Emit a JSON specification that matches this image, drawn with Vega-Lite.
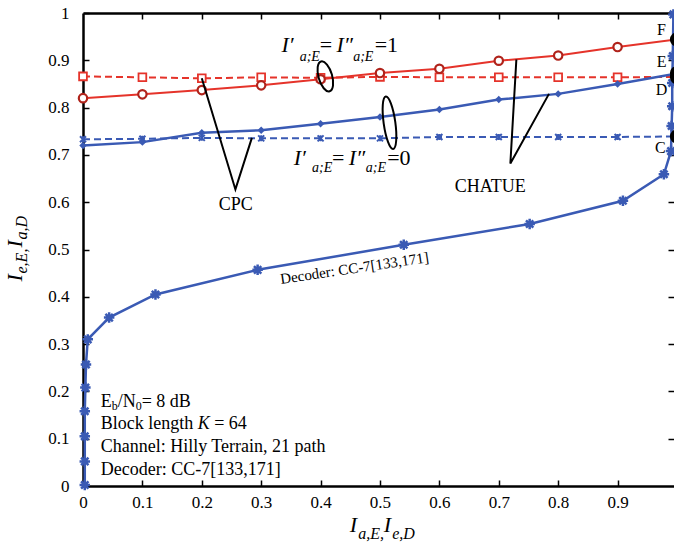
{
"$schema": "https://vega.github.io/schema/vega-lite/v6.json",
"width": 591, "height": 473,
"autosize": "none",
"padding": {"left": 83, "top": 13, "right": 0, "bottom": 68},
"background": "white",
"config": {"view": {"stroke": null}},
"datasets": {
"curves": [
{"s":"cpc1","i":0,"x":0,"y":0.866,"m":1},{"s":"cpc1","i":1,"x":0.1,"y":0.864,"m":1},{"s":"cpc1","i":2,"x":0.2,"y":0.862,"m":1},{"s":"cpc1","i":3,"x":0.3,"y":0.864,"m":1},{"s":"cpc1","i":4,"x":0.4,"y":0.863,"m":1},{"s":"cpc1","i":5,"x":0.5,"y":0.865,"m":1},{"s":"cpc1","i":6,"x":0.6,"y":0.864,"m":1},{"s":"cpc1","i":7,"x":0.7,"y":0.864,"m":1},{"s":"cpc1","i":8,"x":0.8,"y":0.864,"m":1},{"s":"cpc1","i":9,"x":0.9,"y":0.864,"m":1},{"s":"cpc1","i":10,"x":1.0,"y":0.865,"m":0},
{"s":"cpc0","i":0,"x":0,"y":0.733,"m":1},{"s":"cpc0","i":1,"x":0.1,"y":0.734,"m":1},{"s":"cpc0","i":2,"x":0.2,"y":0.736,"m":1},{"s":"cpc0","i":3,"x":0.3,"y":0.735,"m":1},{"s":"cpc0","i":4,"x":0.4,"y":0.735,"m":1},{"s":"cpc0","i":5,"x":0.5,"y":0.735,"m":1},{"s":"cpc0","i":6,"x":0.6,"y":0.738,"m":1},{"s":"cpc0","i":7,"x":0.7,"y":0.738,"m":1},{"s":"cpc0","i":8,"x":0.8,"y":0.738,"m":1},{"s":"cpc0","i":9,"x":0.9,"y":0.738,"m":1},{"s":"cpc0","i":10,"x":1.0,"y":0.739,"m":0},
{"s":"ch1","i":0,"x":0,"y":0.820,"m":1},{"s":"ch1","i":1,"x":0.1,"y":0.828,"m":1},{"s":"ch1","i":2,"x":0.2,"y":0.837,"m":1},{"s":"ch1","i":3,"x":0.3,"y":0.847,"m":1},{"s":"ch1","i":4,"x":0.4,"y":0.860,"m":1},{"s":"ch1","i":5,"x":0.5,"y":0.873,"m":1},{"s":"ch1","i":6,"x":0.6,"y":0.882,"m":1},{"s":"ch1","i":7,"x":0.7,"y":0.899,"m":1},{"s":"ch1","i":8,"x":0.8,"y":0.910,"m":1},{"s":"ch1","i":9,"x":0.9,"y":0.928,"m":1},{"s":"ch1","i":10,"x":1.0,"y":0.944,"m":0},
{"s":"ch0","i":0,"x":0,"y":0.720,"m":1},{"s":"ch0","i":1,"x":0.1,"y":0.727,"m":1},{"s":"ch0","i":2,"x":0.2,"y":0.747,"m":1},{"s":"ch0","i":3,"x":0.3,"y":0.752,"m":1},{"s":"ch0","i":4,"x":0.4,"y":0.766,"m":1},{"s":"ch0","i":5,"x":0.5,"y":0.780,"m":1},{"s":"ch0","i":6,"x":0.6,"y":0.796,"m":1},{"s":"ch0","i":7,"x":0.7,"y":0.817,"m":1},{"s":"ch0","i":8,"x":0.8,"y":0.829,"m":1},{"s":"ch0","i":9,"x":0.9,"y":0.850,"m":1},{"s":"ch0","i":10,"x":1.0,"y":0.872,"m":0},
{"s":"dec","i":0,"x":0.003,"y":0.002,"m":1},{"s":"dec","i":1,"x":0.003,"y":0.052,"m":1},{"s":"dec","i":2,"x":0.003,"y":0.105,"m":1},{"s":"dec","i":3,"x":0.003,"y":0.158,"m":1},{"s":"dec","i":4,"x":0.004,"y":0.208,"m":1},{"s":"dec","i":5,"x":0.005,"y":0.257,"m":1},{"s":"dec","i":6,"x":0.008,"y":0.310,"m":1},{"s":"dec","i":7,"x":0.044,"y":0.356,"m":1},{"s":"dec","i":8,"x":0.122,"y":0.405,"m":1},{"s":"dec","i":9,"x":0.294,"y":0.457,"m":1},{"s":"dec","i":10,"x":0.540,"y":0.510,"m":1},{"s":"dec","i":11,"x":0.752,"y":0.554,"m":1},{"s":"dec","i":12,"x":0.909,"y":0.603,"m":1},{"s":"dec","i":13,"x":0.978,"y":0.659,"m":1},{"s":"dec","i":14,"x":0.990,"y":0.708,"m":1},{"s":"dec","i":15,"x":0.991,"y":0.761,"m":1},{"s":"dec","i":16,"x":0.992,"y":0.803,"m":1},{"s":"dec","i":17,"x":0.992,"y":0.852,"m":1},{"s":"dec","i":18,"x":0.993,"y":0.909,"m":1},{"s":"dec","i":19,"x":0.994,"y":0.997,"m":1}
],
"dots": [{"p":"F","x":1.0,"y":0.944},{"p":"E","x":1.0,"y":0.873},{"p":"D","x":1.0,"y":0.864},{"p":"C","x":1.0,"y":0.739}],
"callouts": [
{"g":"cpc","o":0,"x":0.2,"y":0.862},{"g":"cpc","o":1,"x":0.2566,"y":0.627},{"g":"cpc","o":2,"x":0.2843,"y":0.736},
{"g":"chatue","o":0,"x":0.7296,"y":0.9017},{"g":"chatue","o":1,"x":0.7195,"y":0.6818},{"g":"chatue","o":2,"x":0.7845,"y":0.829}
],
"ellipses": [{"e":1,"x":0.408,"y":0.866},{"e":2,"x":0.516,"y":0.768}],
"texts": [
{"g":"annI","t":"I′","x":0.334,"y":0.9165},{"g":"annI","t":"I″","x":0.4266,"y":0.9165},{"g":"annI","t":"I′","x":0.3547,"y":0.6797},{"g":"annI","t":"I″","x":0.4473,"y":0.6797},
{"g":"annSub","t":"a;E","x":0.3648,"y":0.8975},{"g":"annSub","t":"a;E","x":0.4549,"y":0.8975},{"g":"annSub","t":"a;E","x":0.3856,"y":0.6628},{"g":"annSub","t":"a;E","x":0.4761,"y":0.6628},
{"g":"annEq","t":"=","x":0.3985,"y":0.9165},{"g":"annEq","t":"=1","x":0.4911,"y":0.9165},{"g":"annEq","t":"=","x":0.4192,"y":0.6797},{"g":"annEq","t":"=0","x":0.5121,"y":0.6797},
{"g":"lbl","t":"CPC","x":0.2571,"y":0.5839},{"g":"lbl","t":"CHATUE","x":0.6855,"y":0.6226},
{"g":"pt","t":"F","x":0.974,"y":0.965},{"g":"pt","t":"E","x":0.974,"y":0.897},{"g":"pt","t":"D","x":0.974,"y":0.838},{"g":"pt","t":"C","x":0.972,"y":0.714},
{"g":"box","t":"E","x":0.0298,"y":0.1674},{"g":"box","t":"/N","x":0.0584,"y":0.1674},{"g":"box","t":"= 8 dB","x":0.0988,"y":0.1674},{"g":"box","t":"Block length","x":0.0298,"y":0.1209},{"g":"box","t":"= 64","x":0.2209,"y":0.1209},{"g":"box","t":"Channel: Hilly Terrain, 21 path","x":0.0298,"y":0.0714},{"g":"box","t":"Decoder: CC-7[133,171]","x":0.0298,"y":0.0243},
{"g":"boxSub","t":"b","x":0.0483,"y":0.16},{"g":"boxSub","t":"0","x":0.0887,"y":0.16},
{"g":"boxK","t":"K","x":0.1931,"y":0.1209},
{"g":"dec","t":"Decoder: CC-7[133,171]","x":0.4583,"y":0.4503},
{"g":"xtI","t":"I","x":0.449,"y":-0.0983},{"g":"xtI","t":"I","x":0.5062,"y":-0.0983},
{"g":"xtSub","t":"a,E,","x":0.4633,"y":-0.111},{"g":"xtSub","t":"e,D","x":0.5205,"y":-0.111},
{"g":"ytI","t":"I","x":-0.1032,"y":0.4323},{"g":"ytI","t":"I","x":-0.1032,"y":0.5042},
{"g":"ytSub","t":"e,E,","x":-0.0939,"y":0.4493},{"g":"ytSub","t":"a,D","x":-0.0939,"y":0.5211}
]
},
"resolve": {"axis": {"x": "independent", "y": "independent"}},
"layer": [
{"data":{"name":"curves"},"transform":[{"filter":"datum.s=='cpc1'"}],
 "mark":{"type":"line","color":"#e5332a","strokeWidth":2,"strokeDash":[7,4]},
 "encoding":{
  "x":{"field":"x","type":"quantitative","scale":{"domain":[0,0.995],"nice":false,"zero":false},
   "axis":{"orient":"bottom","values":[0,0.1,0.2,0.3,0.4,0.5,0.6,0.7,0.8,0.9],"format":".1~f","title":null,"grid":false,"domainColor":"black","domainWidth":2.5,"tickColor":"black","tickWidth":1.5,"tickSize":-6,"labelFont":"Liberation Serif, serif","labelFontSize":17,"labelColor":"black","labelPadding":14,"labelFlush":false,"labelOverlap":false}},
  "y":{"field":"y","type":"quantitative","scale":{"domain":[0,1],"nice":false},
   "axis":{"orient":"left","values":[0,0.1,0.2,0.3,0.4,0.5,0.6,0.7,0.8,0.9,1],"format":".1~f","title":null,"grid":false,"domainColor":"black","domainWidth":2.5,"tickColor":"black","tickWidth":1.5,"tickSize":-6,"labelFont":"Liberation Serif, serif","labelFontSize":17,"labelColor":"black","labelPadding":20,"labelFlush":false,"labelOverlap":false}},
  "order":{"field":"i","type":"quantitative"}}},
{"data":{"name":"curves"},"transform":[{"filter":"datum.s=='cpc0'"}],
 "mark":{"type":"line","color":"#3a5ab4","strokeWidth":2,"strokeDash":[7,4]},
 "encoding":{
  "x":{"field":"x","type":"quantitative","scale":{"domain":[0,0.995],"nice":false,"zero":false},
   "axis":{"orient":"top","values":[0.1,0.2,0.3,0.4,0.5,0.6,0.7,0.8,0.9],"labels":false,"title":null,"grid":false,"domainColor":"black","domainWidth":2.5,"tickColor":"black","tickWidth":1.5,"tickSize":-6}},
  "y":{"field":"y","type":"quantitative","scale":{"domain":[0,1],"nice":false},
   "axis":{"orient":"right","values":[0.1,0.2,0.3,0.4,0.5,0.6,0.7,0.8,0.9],"labels":false,"domain":false,"title":null,"grid":false,"tickColor":"black","tickWidth":1.5,"tickSize":-6}},
  "order":{"field":"i","type":"quantitative"}}},
{"data":{"name":"curves"},"transform":[{"filter":"datum.s=='ch1'"}],
 "mark":{"type":"line","color":"#e5332a","strokeWidth":2},
 "encoding":{"x":{"field":"x","type":"quantitative","scale":{"domain":[0,0.995],"nice":false,"zero":false},"axis":null},"y":{"field":"y","type":"quantitative","scale":{"domain":[0,1],"nice":false},"axis":null},"order":{"field":"i","type":"quantitative"}}},
{"data":{"name":"curves"},"transform":[{"filter":"datum.s=='ch0'"}],
 "mark":{"type":"line","color":"#3a5ab4","strokeWidth":2.5},
 "encoding":{"x":{"field":"x","type":"quantitative","scale":{"domain":[0,0.995],"nice":false,"zero":false},"axis":null},"y":{"field":"y","type":"quantitative","scale":{"domain":[0,1],"nice":false},"axis":null},"order":{"field":"i","type":"quantitative"}}},
{"data":{"name":"curves"},"transform":[{"filter":"datum.s=='dec'"}],
 "mark":{"type":"line","color":"#3a5ab4","strokeWidth":2.5},
 "encoding":{"x":{"field":"x","type":"quantitative","scale":{"domain":[0,0.995],"nice":false,"zero":false},"axis":null},"y":{"field":"y","type":"quantitative","scale":{"domain":[0,1],"nice":false},"axis":null},"order":{"field":"i","type":"quantitative"}}},
{"data":{"name":"curves"},"transform":[{"filter":"datum.s=='cpc1' && datum.m==1"}],
 "mark":{"type":"point","shape":"square","size":60,"filled":true,"fill":"white","stroke":"#e5332a","strokeWidth":1.8,"opacity":1},
 "encoding":{"x":{"field":"x","type":"quantitative","scale":{"domain":[0,0.995],"nice":false,"zero":false},"axis":null},"y":{"field":"y","type":"quantitative","scale":{"domain":[0,1],"nice":false},"axis":null}}},
{"data":{"name":"curves"},"transform":[{"filter":"datum.s=='cpc0' && datum.m==1"}],
 "mark":{"type":"point","shape":"M-1,-1L1,1M-1,1L1,-1M0,-1L0,1","size":36,"filled":false,"stroke":"#3a5ab4","strokeWidth":2,"opacity":1},
 "encoding":{"x":{"field":"x","type":"quantitative","scale":{"domain":[0,0.995],"nice":false,"zero":false},"axis":null},"y":{"field":"y","type":"quantitative","scale":{"domain":[0,1],"nice":false},"axis":null}}},
{"data":{"name":"curves"},"transform":[{"filter":"datum.s=='ch1' && datum.m==1"}],
 "mark":{"type":"point","shape":"circle","size":70,"filled":true,"fill":"white","stroke":"#b0231b","strokeWidth":2.2,"opacity":1},
 "encoding":{"x":{"field":"x","type":"quantitative","scale":{"domain":[0,0.995],"nice":false,"zero":false},"axis":null},"y":{"field":"y","type":"quantitative","scale":{"domain":[0,1],"nice":false},"axis":null}}},
{"data":{"name":"curves"},"transform":[{"filter":"datum.s=='ch0' && datum.m==1"}],
 "mark":{"type":"point","shape":"diamond","size":55,"filled":true,"color":"#3a5ab4","opacity":1},
 "encoding":{"x":{"field":"x","type":"quantitative","scale":{"domain":[0,0.995],"nice":false,"zero":false},"axis":null},"y":{"field":"y","type":"quantitative","scale":{"domain":[0,1],"nice":false},"axis":null}}},
{"data":{"name":"curves"},"transform":[{"filter":"datum.s=='dec' && datum.m==1"}],
 "mark":{"type":"point","shape":"M-1,0L1,0M0,-1L0,1M-0.7,-0.7L0.7,0.7M-0.7,0.7L0.7,-0.7","size":110,"filled":false,"stroke":"#3a5ab4","strokeWidth":2.5,"opacity":1},
 "encoding":{"x":{"field":"x","type":"quantitative","scale":{"domain":[0,0.995],"nice":false,"zero":false},"axis":null},"y":{"field":"y","type":"quantitative","scale":{"domain":[0,1],"nice":false},"axis":null}}},
{"data":{"name":"dots"},
 "mark":{"type":"point","shape":"circle","size":200,"filled":true,"color":"black","opacity":1},
 "encoding":{"x":{"field":"x","type":"quantitative","scale":{"domain":[0,0.995],"nice":false,"zero":false},"axis":null},"y":{"field":"y","type":"quantitative","scale":{"domain":[0,1],"nice":false},"axis":null}}},
{"data":{"name":"callouts"},
 "mark":{"type":"line","color":"black","strokeWidth":2},
 "encoding":{"x":{"field":"x","type":"quantitative","scale":{"domain":[0,0.995],"nice":false,"zero":false},"axis":null},"y":{"field":"y","type":"quantitative","scale":{"domain":[0,1],"nice":false},"axis":null},"detail":{"field":"g"},"order":{"field":"o","type":"quantitative"}}},
{"data":{"name":"ellipses"},"transform":[{"filter":"datum.e==1"}],
 "mark":{"type":"point","shape":"M0,-1A0.44,1 0 1,1 0,1A0.44,1 0 1,1 0,-1Z","size":961,"angle":-16,"filled":false,"stroke":"black","strokeWidth":2,"opacity":1},
 "encoding":{"x":{"field":"x","type":"quantitative","scale":{"domain":[0,0.995],"nice":false,"zero":false},"axis":null},"y":{"field":"y","type":"quantitative","scale":{"domain":[0,1],"nice":false},"axis":null}}},
{"data":{"name":"ellipses"},"transform":[{"filter":"datum.e==2"}],
 "mark":{"type":"point","shape":"M0,-1A0.22,1 0 1,1 0,1A0.22,1 0 1,1 0,-1Z","size":2809,"angle":-8,"filled":false,"stroke":"black","strokeWidth":2,"opacity":1},
 "encoding":{"x":{"field":"x","type":"quantitative","scale":{"domain":[0,0.995],"nice":false,"zero":false},"axis":null},"y":{"field":"y","type":"quantitative","scale":{"domain":[0,1],"nice":false},"axis":null}}},
{"data":{"name":"texts"},"transform":[{"filter":"datum.g=='annI'"}],
 "mark":{"type":"text","font":"Liberation Serif, serif","fontStyle":"italic","fontSize":22,"align":"left","baseline":"alphabetic","color":"black"},
 "encoding":{"x":{"field":"x","type":"quantitative","scale":{"domain":[0,0.995],"nice":false,"zero":false},"axis":null},"y":{"field":"y","type":"quantitative","scale":{"domain":[0,1],"nice":false},"axis":null},"text":{"field":"t"}}},
{"data":{"name":"texts"},"transform":[{"filter":"datum.g=='annSub'"}],
 "mark":{"type":"text","font":"Liberation Serif, serif","fontStyle":"italic","fontSize":14,"align":"left","baseline":"alphabetic","color":"black"},
 "encoding":{"x":{"field":"x","type":"quantitative","scale":{"domain":[0,0.995],"nice":false,"zero":false},"axis":null},"y":{"field":"y","type":"quantitative","scale":{"domain":[0,1],"nice":false},"axis":null},"text":{"field":"t"}}},
{"data":{"name":"texts"},"transform":[{"filter":"datum.g=='annEq'"}],
 "mark":{"type":"text","font":"Liberation Serif, serif","fontSize":22,"align":"left","baseline":"alphabetic","color":"black"},
 "encoding":{"x":{"field":"x","type":"quantitative","scale":{"domain":[0,0.995],"nice":false,"zero":false},"axis":null},"y":{"field":"y","type":"quantitative","scale":{"domain":[0,1],"nice":false},"axis":null},"text":{"field":"t"}}},
{"data":{"name":"texts"},"transform":[{"filter":"datum.g=='lbl'"}],
 "mark":{"type":"text","font":"Liberation Serif, serif","fontSize":18,"align":"center","baseline":"alphabetic","color":"black"},
 "encoding":{"x":{"field":"x","type":"quantitative","scale":{"domain":[0,0.995],"nice":false,"zero":false},"axis":null},"y":{"field":"y","type":"quantitative","scale":{"domain":[0,1],"nice":false},"axis":null},"text":{"field":"t"}}},
{"data":{"name":"texts"},"transform":[{"filter":"datum.g=='pt'"}],
 "mark":{"type":"text","font":"Liberation Serif, serif","fontSize":16,"align":"center","baseline":"middle","color":"black"},
 "encoding":{"x":{"field":"x","type":"quantitative","scale":{"domain":[0,0.995],"nice":false,"zero":false},"axis":null},"y":{"field":"y","type":"quantitative","scale":{"domain":[0,1],"nice":false},"axis":null},"text":{"field":"t"}}},
{"data":{"name":"texts"},"transform":[{"filter":"datum.g=='box'"}],
 "mark":{"type":"text","font":"Liberation Serif, serif","fontSize":18,"align":"left","baseline":"alphabetic","color":"black"},
 "encoding":{"x":{"field":"x","type":"quantitative","scale":{"domain":[0,0.995],"nice":false,"zero":false},"axis":null},"y":{"field":"y","type":"quantitative","scale":{"domain":[0,1],"nice":false},"axis":null},"text":{"field":"t"}}},
{"data":{"name":"texts"},"transform":[{"filter":"datum.g=='boxSub'"}],
 "mark":{"type":"text","font":"Liberation Serif, serif","fontSize":12,"align":"left","baseline":"alphabetic","color":"black"},
 "encoding":{"x":{"field":"x","type":"quantitative","scale":{"domain":[0,0.995],"nice":false,"zero":false},"axis":null},"y":{"field":"y","type":"quantitative","scale":{"domain":[0,1],"nice":false},"axis":null},"text":{"field":"t"}}},
{"data":{"name":"texts"},"transform":[{"filter":"datum.g=='boxK'"}],
 "mark":{"type":"text","font":"Liberation Serif, serif","fontStyle":"italic","fontSize":18,"align":"left","baseline":"alphabetic","color":"black"},
 "encoding":{"x":{"field":"x","type":"quantitative","scale":{"domain":[0,0.995],"nice":false,"zero":false},"axis":null},"y":{"field":"y","type":"quantitative","scale":{"domain":[0,1],"nice":false},"axis":null},"text":{"field":"t"}}},
{"data":{"name":"texts"},"transform":[{"filter":"datum.g=='dec'"}],
 "mark":{"type":"text","font":"Liberation Serif, serif","fontSize":15,"align":"center","baseline":"alphabetic","angle":-8.4,"color":"black"},
 "encoding":{"x":{"field":"x","type":"quantitative","scale":{"domain":[0,0.995],"nice":false,"zero":false},"axis":null},"y":{"field":"y","type":"quantitative","scale":{"domain":[0,1],"nice":false},"axis":null},"text":{"field":"t"}}},
{"data":{"name":"texts"},"transform":[{"filter":"datum.g=='xtI'"}],
 "mark":{"type":"text","font":"Liberation Serif, serif","fontStyle":"italic","fontSize":22,"align":"left","baseline":"alphabetic","color":"black"},
 "encoding":{"x":{"field":"x","type":"quantitative","scale":{"domain":[0,0.995],"nice":false,"zero":false},"axis":null},"y":{"field":"y","type":"quantitative","scale":{"domain":[0,1],"nice":false},"axis":null},"text":{"field":"t"}}},
{"data":{"name":"texts"},"transform":[{"filter":"datum.g=='xtSub'"}],
 "mark":{"type":"text","font":"Liberation Serif, serif","fontStyle":"italic","fontSize":16,"align":"left","baseline":"alphabetic","color":"black"},
 "encoding":{"x":{"field":"x","type":"quantitative","scale":{"domain":[0,0.995],"nice":false,"zero":false},"axis":null},"y":{"field":"y","type":"quantitative","scale":{"domain":[0,1],"nice":false},"axis":null},"text":{"field":"t"}}},
{"data":{"name":"texts"},"transform":[{"filter":"datum.g=='ytI'"}],
 "mark":{"type":"text","font":"Liberation Serif, serif","fontStyle":"italic","fontSize":22,"align":"left","baseline":"alphabetic","angle":270,"color":"black"},
 "encoding":{"x":{"field":"x","type":"quantitative","scale":{"domain":[0,0.995],"nice":false,"zero":false},"axis":null},"y":{"field":"y","type":"quantitative","scale":{"domain":[0,1],"nice":false},"axis":null},"text":{"field":"t"}}},
{"data":{"name":"texts"},"transform":[{"filter":"datum.g=='ytSub'"}],
 "mark":{"type":"text","font":"Liberation Serif, serif","fontStyle":"italic","fontSize":16,"align":"left","baseline":"alphabetic","angle":270,"color":"black"},
 "encoding":{"x":{"field":"x","type":"quantitative","scale":{"domain":[0,0.995],"nice":false,"zero":false},"axis":null},"y":{"field":"y","type":"quantitative","scale":{"domain":[0,1],"nice":false},"axis":null},"text":{"field":"t"}}}
]
}
